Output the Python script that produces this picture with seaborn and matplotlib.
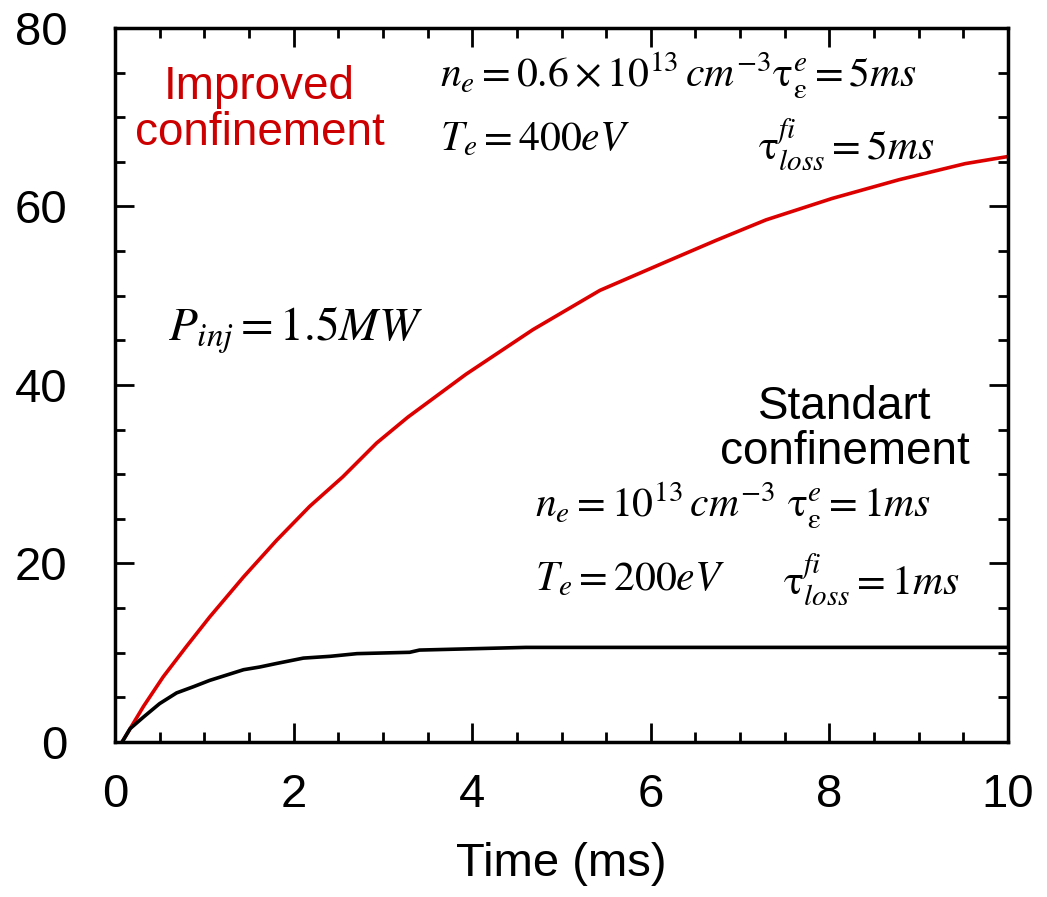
import numpy as np
import pandas as pd
import seaborn as sns
import matplotlib
matplotlib.use("Agg")
import matplotlib.pyplot as plt
from matplotlib.ticker import MultipleLocator

# values
t_improved = [0.08, 0.32, 0.54, 0.80, 1.06, 1.44, 1.81, 2.18, 2.55, 2.93, 3.28,
              3.93, 4.68, 5.43, 6.17, 6.73, 7.29, 8.03, 8.78, 9.52, 10.0]
w_improved = [0.0, 4.0, 7.3, 10.7, 14.0, 18.5, 22.6, 26.4, 29.7, 33.5, 36.4,
              41.2, 46.2, 50.6, 53.8, 56.2, 58.5, 60.9, 63.0, 64.8, 65.6]

t_standard = [0.08, 0.17, 0.32, 0.50, 0.69, 0.88, 1.06, 1.25, 1.44, 1.62, 1.81,
              2.11, 2.41, 2.71, 3.30, 3.41, 4.60, 10.0]
w_standard = [0.0, 1.5, 2.8, 4.3, 5.5, 6.2, 6.9, 7.5, 8.1, 8.4, 8.8,
              9.4, 9.6, 9.9, 10.05, 10.3, 10.6, 10.6]

red = "#dd0000"

df = pd.concat([
    pd.DataFrame({"time": t_improved, "value": w_improved, "case": "improved"}),
    pd.DataFrame({"time": t_standard, "value": w_standard, "case": "standard"}),
])

sns.set_style("ticks")
plt.rcParams["font.family"] = ["Liberation Sans", "DejaVu Sans"]
plt.rcParams["mathtext.fontset"] = "stix"
plt.rcParams["text.color"] = "black"
plt.rcParams["axes.labelcolor"] = "black"

fig = plt.figure(figsize=(10.47, 8.97), dpi=100)
ax = fig.add_axes([0.1098, 0.1728, 0.853, 0.796])

sns.lineplot(data=df, x="time", y="value", hue="case",
             palette={"improved": red, "standard": "black"},
             estimator=None, sort=True, linewidth=2.6, legend=False, ax=ax)

ax.set_xlim(0, 10)
ax.set_ylim(0, 80)
ax.xaxis.set_major_locator(MultipleLocator(2))
ax.xaxis.set_minor_locator(MultipleLocator(0.5))
ax.yaxis.set_major_locator(MultipleLocator(20))
ax.yaxis.set_minor_locator(MultipleLocator(5))
ax.tick_params(which="both", direction="in", top=True, right=True, width=2, colors="black")
ax.tick_params(which="major", length=14)
ax.tick_params(which="minor", length=7)
ax.tick_params(axis="y", which="major", labelsize=34, pad=34)
ax.tick_params(axis="x", which="major", labelsize=34, pad=22)
for s in ax.spines.values():
    s.set_linewidth(2.5)
    s.set_color("black")

ax.set_xlabel("Time (ms)", fontsize=34, labelpad=18, color="black")
ax.set_ylabel("")

tau_e = r"\mathrm{\tau}_{\mathrm{\varepsilon}}^{e}"
tau_fi = r"\mathrm{\tau}_{loss}^{fi}"

# annotations
ax.text(1.62, 70.8, "Improved\nconfinement", color="#cc0000", fontsize=33,
        ha="center", va="center", linespacing=1.05)
ax.text(3.64, 73.3, r"$n_e = 0.6\times10^{13}\,cm^{-3}" + tau_e + r" = 5ms$",
        fontsize=30, ha="left", va="baseline")
ax.text(3.64, 66.3, r"$T_e = 400eV$", fontsize=30, ha="left", va="baseline")
ax.text(7.2, 65.2, r"$" + tau_fi + r" = 5ms$", fontsize=30, ha="left", va="baseline")
ax.text(0.59, 45.0, r"$P_{inj} = 1.5MW$", fontsize=34, ha="left", va="baseline")

ax.text(8.17, 35.0, "Standart\nconfinement", color="black", fontsize=33,
        ha="center", va="center", linespacing=1.05)
ax.text(4.70, 25.1, r"$n_e = 10^{13}\,cm^{-3}\ " + tau_e + r" = 1ms$",
        fontsize=30, ha="left", va="baseline")
ax.text(4.70, 17.0, r"$T_e = 200eV$", fontsize=30, ha="left", va="baseline")
ax.text(7.48, 16.5, r"$" + tau_fi + r" = 1ms$", fontsize=30, ha="left", va="baseline")

fig.savefig("out.png", dpi=100)
